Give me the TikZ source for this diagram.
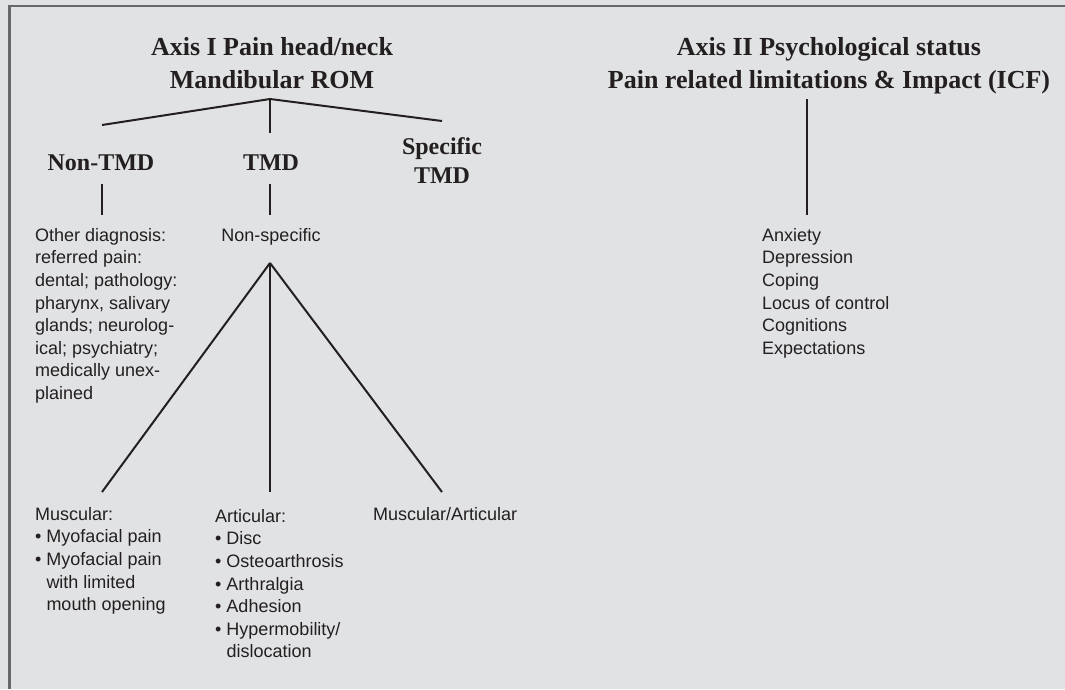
\documentclass[tikz,border=0pt]{standalone}
\usepackage{fontspec}
\setmainfont{Liberation Serif}
\setsansfont{Liberation Sans}
\definecolor{panelgray}{HTML}{E1E2E4}
\definecolor{framegray}{HTML}{68686A}
\definecolor{ink}{HTML}{231F20}
\newcommand{\dotitem}{\textbullet\ }
\newcommand{\dotgap}{\hphantom{\textbullet\ }}
\tikzset{
  axis title/.style = {
    font={\rmfamily\bfseries\fontsize{26}{33}\selectfont},
    align=center,
    inner sep=0pt,
    anchor=north,
    text=ink
  },
  group title/.style = {
    font={\rmfamily\bfseries\fontsize{24}{29}\selectfont},
    align=center,
    inner sep=0pt,
    text=ink
  },
  entry/.style = {
    font={\sffamily\fontsize{18}{22.6}\selectfont},
    align=left,
    inner sep=0pt,
    anchor=north west,
    text=ink
  },
  branch/.style = {
    line width=2pt,
    draw=ink
  },
  frame/.style = {
    line width=2.5pt,
    draw=framegray
  },
}

\begin{document}
\begin{tikzpicture}[x=1pt,y=-1pt]

  \useasboundingbox (0,0) rectangle (1065,689);
  \fill[panelgray] (0,0) rectangle (1065,689);
  \draw[frame] (9.5,689) -- (9.5,6) -- (1065,6);

  % axis titles
  \node[axis title] (axisone) at (272,37) {Axis I Pain head/neck\\Mandibular ROM};
  \node[axis title] (axistwo) at (829,37) {Axis II Psychological status\\Pain related limitations \& Impact (ICF)};

  % axis I groups
  \node[group title, anchor=base] (nontmd) at (101,170) {Non-TMD};
  \node[group title, anchor=base] (tmd) at (271,170) {TMD};
  \node[group title, anchor=north] (spectmd) at (442,137) {Specific\\TMD};

  \node[entry] (other) at (35,228) {Other diagnosis:\\referred pain:\\dental; pathology:\\pharynx, salivary\\glands; neurolog-\\ical; psychiatry;\\medically unex-\\plained};
  \node[entry, anchor=base] (nonspec) at (271,241) {Non-specific};

  \node[entry] (muscular) at (35,507) {Muscular:\\\dotitem Myofacial pain\\\dotitem Myofacial pain\\\dotgap with limited\\\dotgap mouth opening};
  \node[entry] (articular) at (215,509) {Articular:\\\dotitem Disc\\\dotitem Osteoarthrosis\\\dotitem Arthralgia\\\dotitem Adhesion\\\dotitem Hypermobility/\\\dotgap dislocation};
  \node[entry, anchor=base west] (musart) at (373,520) {Muscular/Articular};

  % axis II list
  \node[entry] (psych) at (762,228) {Anxiety\\Depression\\Coping\\Locus of control\\Cognitions\\Expectations};

  % branch points
  \coordinate (axisone-fork) at (270,99);
  \coordinate (nontmd-top) at (102,125);
  \coordinate (tmd-top) at (270,133);
  \coordinate (spectmd-top) at (442,121);
  \coordinate (nontmd-foot) at (102,184);
  \coordinate (other-top) at (102,215);
  \coordinate (tmd-foot) at (270,184);
  \coordinate (nonspec-top) at (270,215);
  \coordinate (nonspec-fork) at (270,263);
  \coordinate (muscular-top) at (102,492);
  \coordinate (articular-top) at (270,492);
  \coordinate (musart-top) at (442,492);
  \coordinate (axistwo-fork) at (807,99);
  \coordinate (psych-top) at (807,215);

  \foreach \from/\to in {
    axisone-fork/nontmd-top,
    axisone-fork/tmd-top,
    axisone-fork/spectmd-top,
    nontmd-foot/other-top,
    tmd-foot/nonspec-top,
    nonspec-fork/muscular-top,
    nonspec-fork/articular-top,
    nonspec-fork/musart-top,
    axistwo-fork/psych-top%
  } {
    \draw[branch] (\from) -- (\to);
  }

\end{tikzpicture}
\end{document}
